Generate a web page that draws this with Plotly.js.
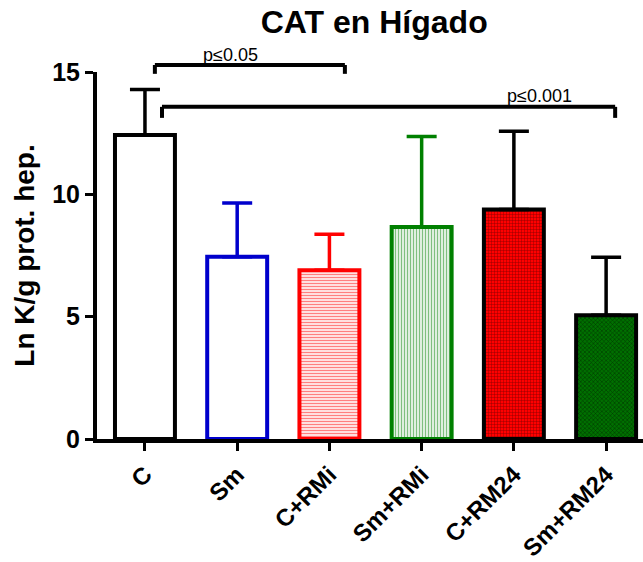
<!DOCTYPE html>
<html><head><meta charset="utf-8">
<script src="https://cdn.plot.ly/plotly-3.0.1.min.js"></script>
<style>body{margin:0;padding:0;background:#fff}#chart{width:643px;height:562px}</style>
</head><body><div id="chart"></div>
<script>
var categories = ['C', 'Sm', 'C+RMi', 'Sm+RMi', 'C+RM24', 'Sm+RM24'];
var means = [12.43, 7.45, 6.9, 8.66, 9.38, 5.06];
var errUp = [1.85, 2.2, 1.47, 3.7, 3.2, 2.37];
var tickVals = [0, 5, 10, 15];

var outline = ['#000000', '#0000CC', '#FF0000', '#008000', '#000000', '#000000'];
var errColor = ['#000000', '#0000CC', '#FF0000', '#008000', '#000000', '#000000'];
var fills = [
  {color: '#FFFFFF', pattern: {shape: ''}},
  {color: '#FFFFFF', pattern: {shape: ''}},
  {color: '#FFFFFF', pattern: {shape: '-', fgcolor: '#FF0000', bgcolor: '#FFFFFF', size: 3, solidity: 0.5, fillmode: 'overlay'}},
  {color: '#FFFFFF', pattern: {shape: '|', fgcolor: '#008000', bgcolor: '#FFFFFF', size: 3, solidity: 0.5, fillmode: 'overlay'}},
  {color: '#FF0000', pattern: {shape: '+', fgcolor: '#000000', bgcolor: '#FF0000', size: 3, solidity: 0.25, fillmode: 'overlay'}},
  {color: '#006000', pattern: {shape: 'x', fgcolor: '#000000', bgcolor: '#007000', size: 3, solidity: 0.35, fillmode: 'overlay'}}
];

var traces = categories.map(function(c, i) {
  return {
    type: 'bar', x: [c], y: [means[i]], width: 0.65,
    marker: {color: fills[i].color, pattern: fills[i].pattern, line: {color: outline[i], width: 4}},
    error_y: {type: 'data', symmetric: false, array: [errUp[i]], arrayminus: [0], color: errColor[i], thickness: 3.5, width: 15},
    hoverinfo: 'none', showlegend: false
  };
});

var F = 'Liberation Sans, Arial, sans-serif';
function bracket(x0, x1, yTop, yEnd) {
  return [
    {type: 'line', xref: 'paper', yref: 'paper', x0: x0, x1: x1, y0: yTop, y1: yTop, line: {color: '#000', width: 4}},
    {type: 'line', xref: 'paper', yref: 'paper', x0: x0, x1: x0, y0: yTop, y1: yEnd, line: {color: '#000', width: 4}},
    {type: 'line', xref: 'paper', yref: 'paper', x0: x1, x1: x1, y0: yTop, y1: yEnd, line: {color: '#000', width: 4}}
  ];
}
var shapes = [].concat(bracket(0.106, 0.454, 1.019, 0.995), bracket(0.119, 0.949, 0.905, 0.875));

var layout = {
  width: 643, height: 562,
  margin: {l: 97, r: 0, t: 72, b: 123},
  paper_bgcolor: '#fff', plot_bgcolor: '#fff',
  barmode: 'overlay',
  title: {text: '<b>CAT en Hígado</b>', font: {family: F, size: 32, color: '#000'}, x: 0.582, xanchor: 'center', y: 0.961, yanchor: 'middle'},
  xaxis: {type: 'category', range: [-0.52, 5.4], showline: true, linewidth: 4, linecolor: '#000',
    ticks: 'outside', ticklen: 8, tickwidth: 3, tickcolor: '#000', tickangle: -45,
    tickfont: {family: F, size: 24, color: '#000', weight: 'bold'}, showgrid: false, zeroline: false, fixedrange: true},
  yaxis: {range: [0, 15], tickvals: tickVals, ticktext: tickVals.map(String), showline: true, linewidth: 4, linecolor: '#000',
    ticks: 'outside', ticklen: 8, tickwidth: 3, tickcolor: '#000',
    tickfont: {family: F, size: 25, color: '#000', weight: 'bold'}, showgrid: false, zeroline: false,
    title: {text: '<b>Ln K/g prot. hep.</b>', font: {family: F, size: 28, color: '#000'}, standoff: 10}},
  shapes: shapes,
  annotations: [
    {xref: 'paper', yref: 'paper', x: 0.2436, y: 1.046, xanchor: 'center', yanchor: 'middle', text: 'p≤0.05', showarrow: false, font: {family: F, size: 18, color: '#000'}},
    {xref: 'paper', yref: 'paper', x: 0.811, y: 0.935, xanchor: 'center', yanchor: 'middle', text: 'p≤0.001', showarrow: false, font: {family: F, size: 18, color: '#000'}}
  ]
};
Plotly.newPlot('chart', traces, layout, {displayModeBar: false, staticPlot: true});
</script></body></html>
